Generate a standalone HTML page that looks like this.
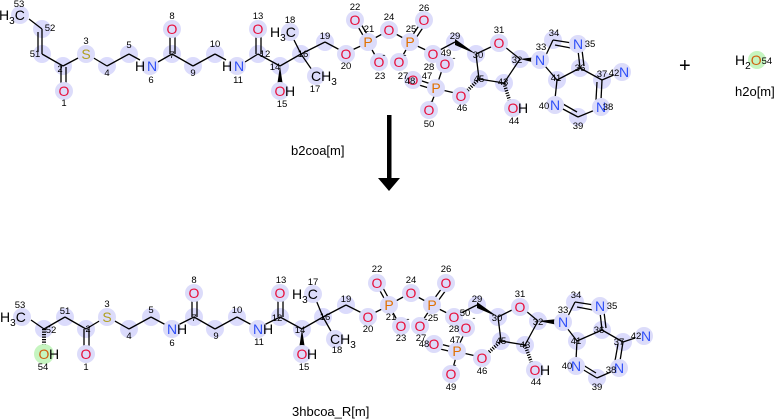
<!DOCTYPE html>
<html><head><meta charset="utf-8"><style>
body{margin:0;background:#fff;width:780px;height:420px;overflow:hidden}
svg{display:block}
.b line,.b polyline{stroke:#000;stroke-width:1.3;fill:none}
.cc{fill:rgba(190,190,250,0.55)}
.hc{fill:#dcdcfa}
.g{fill:#c6f5c0}
text{font-family:"Liberation Sans","DejaVu Sans",sans-serif}
.n{font-size:9.5px;fill:#000;text-anchor:middle}
.O{fill:#e8103c;font-size:14px;text-anchor:middle}
.N{fill:#3050f8;font-size:14px;text-anchor:middle}
.S{fill:#b0a020;font-size:14px;text-anchor:middle}
.P{fill:#e07000;font-size:14px;text-anchor:middle}
.K{fill:#000;font-size:14px}
.lab{font-size:13px;fill:#000}
</style></head><body>
<svg width="780" height="420" viewBox="0 0 780 420">
<!-- carbon circles (top) -->
<g class="cc">
<circle cx="42" cy="29" r="9"/><circle cx="42" cy="54" r="9"/><circle cx="63" cy="66" r="9"/><circle cx="107" cy="66" r="9"/><circle cx="129" cy="54" r="9"/><circle cx="172" cy="54" r="9"/><circle cx="193" cy="66" r="9"/><circle cx="215" cy="54" r="9"/><circle cx="258" cy="54" r="9"/><circle cx="280" cy="66" r="9"/><circle cx="301" cy="54" r="9"/><circle cx="325" cy="42" r="9"/><circle cx="455" cy="42" r="9"/><circle cx="476" cy="54" r="9"/><circle cx="520" cy="59" r="9"/><circle cx="504" cy="83" r="9"/><circle cx="479" cy="79" r="9"/><circle cx="553" cy="40" r="9"/><circle cx="580" cy="68" r="9"/><circle cx="602" cy="80" r="9"/><circle cx="578" cy="117" r="9"/><circle cx="557" cy="80" r="9"/>
<!-- bottom -->
<circle cx="44" cy="329" r="9"/><circle cx="65" cy="317" r="9"/><circle cx="86" cy="329" r="9"/><circle cx="129" cy="329" r="9"/><circle cx="151" cy="317" r="9"/><circle cx="194" cy="317" r="9"/><circle cx="215" cy="329" r="9"/><circle cx="237" cy="317" r="9"/><circle cx="280" cy="317" r="9"/><circle cx="302" cy="329" r="9"/><circle cx="323" cy="317" r="9"/><circle cx="346" cy="305" r="9"/><circle cx="477" cy="305" r="9"/><circle cx="498" cy="317" r="9"/><circle cx="538" cy="321" r="9"/><circle cx="525" cy="345" r="9"/><circle cx="501" cy="341" r="9"/><circle cx="575" cy="302" r="9"/><circle cx="602" cy="330" r="9"/><circle cx="623" cy="342" r="9"/><circle cx="597" cy="378" r="9"/><circle cx="577" cy="341" r="9"/>
</g>
<g class="b">
<!-- top bonds -->
<line x1="29" y1="19" x2="42" y2="29"/><line x1="42" y1="29" x2="42" y2="54"/><line x1="38" y1="32" x2="38" y2="52"/>
<line x1="42" y1="54" x2="63" y2="66"/><line x1="61" y1="66" x2="61" y2="84"/><line x1="66" y1="67" x2="66" y2="84"/>
<line x1="63" y1="66" x2="80" y2="57"/><line x1="92" y1="57" x2="107" y2="66"/><line x1="107" y1="66" x2="129" y2="54"/><line x1="129" y1="54" x2="140" y2="60"/>
<line x1="158" y1="62" x2="172" y2="54"/><line x1="170" y1="54" x2="170" y2="36"/><line x1="175" y1="54" x2="175" y2="36"/>
<line x1="172" y1="54" x2="193" y2="66"/><line x1="193" y1="66" x2="215" y2="54"/><line x1="215" y1="54" x2="226" y2="60"/>
<line x1="245" y1="62" x2="258" y2="54"/><line x1="256" y1="54" x2="256" y2="36"/><line x1="261" y1="54" x2="261" y2="36"/>
<line x1="258" y1="54" x2="280" y2="66"/><line x1="280" y1="66" x2="301" y2="54"/><line x1="301" y1="54" x2="293" y2="38"/><line x1="301" y1="54" x2="312" y2="70"/><line x1="301" y1="54" x2="325" y2="42"/><line x1="325" y1="42" x2="340" y2="50"/>
<line x1="352" y1="50" x2="363" y2="45"/><line x1="364" y1="37" x2="357" y2="25"/><line x1="368" y1="36" x2="361" y2="24"/><line x1="371" y1="48" x2="376" y2="57"/><line x1="373" y1="39" x2="384" y2="33"/>
<line x1="394" y1="33" x2="405" y2="39"/><line x1="412" y1="36" x2="420" y2="24"/><line x1="416" y1="38" x2="424" y2="26"/><line x1="407" y1="48" x2="402" y2="57"/><line x1="415" y1="45" x2="428" y2="51"/>
<line x1="438" y1="51" x2="455" y2="42"/><line x1="476" y1="54" x2="493" y2="46"/><line x1="505" y1="47" x2="520" y2="59"/><line x1="520" y1="59" x2="504" y2="83"/><line x1="504" y1="83" x2="479" y2="79"/><line x1="479" y1="79" x2="476" y2="54"/>
<line x1="455" y1="93" x2="442" y2="90"/><line x1="431" y1="84" x2="419" y2="80"/><line x1="432" y1="89" x2="419" y2="85"/><line x1="435" y1="94" x2="431" y2="104"/><line x1="438" y1="82" x2="442" y2="70"/>
<line x1="546" y1="55" x2="553" y2="40"/><line x1="553" y1="40" x2="572" y2="43"/><line x1="555" y1="45" x2="571" y2="48"/><line x1="578" y1="50" x2="580" y2="68"/><line x1="582" y1="50" x2="584" y2="66"/><line x1="580" y1="68" x2="557" y2="80"/><line x1="557" y1="80" x2="545" y2="66"/>
<line x1="580" y1="68" x2="602" y2="80"/><line x1="602" y1="80" x2="616" y2="74"/><line x1="602" y1="80" x2="601" y2="100"/><line x1="597" y1="82" x2="596" y2="100"/>
<line x1="595" y1="110" x2="578" y2="117"/><line x1="578" y1="117" x2="561" y2="108"/><line x1="577" y1="112" x2="563" y2="104"/><line x1="555" y1="99" x2="557" y2="80"/>
<!-- bottom bonds -->
<line x1="31" y1="320" x2="44" y2="329"/><line x1="44" y1="329" x2="65" y2="317"/><line x1="65" y1="317" x2="86" y2="329"/><line x1="84" y1="329" x2="84" y2="347"/><line x1="89" y1="329" x2="89" y2="347"/>
<line x1="86" y1="329" x2="101" y2="320"/><line x1="113" y1="320" x2="129" y2="329"/><line x1="129" y1="329" x2="151" y2="317"/><line x1="151" y1="317" x2="166" y2="325"/>
<line x1="178" y1="325" x2="194" y2="317"/><line x1="192" y1="317" x2="192" y2="300"/><line x1="197" y1="317" x2="197" y2="300"/><line x1="194" y1="317" x2="215" y2="329"/><line x1="215" y1="329" x2="237" y2="317"/><line x1="237" y1="317" x2="252" y2="325"/>
<line x1="264" y1="325" x2="280" y2="317"/><line x1="278" y1="317" x2="278" y2="300"/><line x1="283" y1="317" x2="283" y2="300"/><line x1="280" y1="317" x2="302" y2="329"/><line x1="302" y1="329" x2="323" y2="317"/>
<line x1="323" y1="317" x2="316" y2="300"/><line x1="323" y1="317" x2="332" y2="333"/><line x1="323" y1="317" x2="346" y2="305"/><line x1="346" y1="305" x2="362" y2="313"/>
<line x1="374" y1="313" x2="384" y2="308"/><line x1="385" y1="300" x2="379" y2="289"/><line x1="389" y1="299" x2="383" y2="288"/><line x1="392" y1="311" x2="397" y2="320"/><line x1="394" y1="302" x2="405" y2="296"/>
<line x1="416" y1="296" x2="427" y2="302"/><line x1="434" y1="299" x2="442" y2="288"/><line x1="438" y1="301" x2="446" y2="290"/><line x1="429" y1="311" x2="423" y2="320"/><line x1="437" y1="308" x2="449" y2="314"/>
<line x1="459" y1="314" x2="477" y2="305"/><line x1="498" y1="317" x2="514" y2="309"/><line x1="526" y1="311" x2="538" y2="321"/><line x1="538" y1="321" x2="525" y2="345"/><line x1="525" y1="345" x2="501" y2="341"/><line x1="501" y1="341" x2="498" y2="317"/>
<line x1="476" y1="356" x2="463" y2="353"/><line x1="452" y1="347" x2="440" y2="344"/><line x1="453" y1="352" x2="440" y2="349"/><line x1="456" y1="357" x2="453" y2="368"/><line x1="459" y1="345" x2="464" y2="334"/>
<line x1="568" y1="316" x2="575" y2="302"/><line x1="575" y1="302" x2="594" y2="305"/><line x1="577" y1="307" x2="593" y2="310"/><line x1="600" y1="312" x2="602" y2="330"/><line x1="604" y1="312" x2="606" y2="328"/><line x1="602" y1="330" x2="577" y2="341"/><line x1="577" y1="341" x2="567" y2="328"/>
<line x1="602" y1="330" x2="623" y2="342"/><line x1="623" y1="342" x2="638" y2="337"/><line x1="623" y1="342" x2="620" y2="361"/><line x1="618" y1="344" x2="615" y2="361"/>
<line x1="613" y1="371" x2="597" y2="378"/><line x1="597" y1="378" x2="582" y2="369"/><line x1="596" y1="373" x2="583" y2="365"/><line x1="576" y1="360" x2="577" y2="341"/>
</g>
<!-- wedges / hashes -->
<polygon points="280,66 277,86 283,86" fill="#000"/>
<polygon points="476,54 455,39 455,45" fill="#000"/>
<polygon points="520,59 536,57 536,63" fill="#000"/>
<line x1="479" y1="79" x2="466" y2="92" stroke="#000" stroke-width="3.5" stroke-dasharray="1.2,1.3"/>
<line x1="504" y1="83" x2="510" y2="102" stroke="#000" stroke-width="3.5" stroke-dasharray="1.2,1.3"/>
<polygon points="302,329 299,349 305,349" fill="#000"/>
<polygon points="498,317 477,302 477,308" fill="#000"/>
<polygon points="538,321 558,319 558,325" fill="#000"/>
<line x1="44" y1="329" x2="44" y2="348" stroke="#000" stroke-width="4" stroke-dasharray="1.2,1.3"/>
<line x1="501" y1="341" x2="487" y2="354" stroke="#000" stroke-width="3.5" stroke-dasharray="1.2,1.3"/>
<line x1="525" y1="345" x2="532" y2="364" stroke="#000" stroke-width="3.5" stroke-dasharray="1.2,1.3"/>
<!-- hetero circles -->
<g class="hc">
<circle cx="20" cy="15" r="9"/><circle cx="64" cy="91" r="9"/><circle cx="86" cy="54" r="9"/><circle cx="150" cy="66" r="9"/><circle cx="172" cy="29" r="9"/><circle cx="237" cy="66" r="9"/><circle cx="258" cy="29" r="9"/><circle cx="280" cy="91" r="9"/><circle cx="290" cy="32" r="9"/><circle cx="316" cy="76" r="9"/>
<circle cx="346" cy="54" r="9"/><circle cx="368" cy="42" r="9"/><circle cx="355" cy="20" r="9"/><circle cx="379" cy="62" r="9"/><circle cx="389" cy="30" r="9"/><circle cx="410" cy="42" r="9"/><circle cx="424" cy="20" r="9"/><circle cx="399" cy="62" r="9"/><circle cx="433" cy="54" r="9"/><circle cx="445" cy="64" r="9"/><circle cx="499" cy="43" r="9"/><circle cx="461" cy="96" r="9"/><circle cx="436" cy="88" r="9"/><circle cx="413" cy="80" r="9"/><circle cx="429" cy="110" r="9"/><circle cx="513" cy="108" r="9"/><circle cx="540" cy="60" r="9"/><circle cx="578" cy="44" r="9"/><circle cx="601" cy="107" r="9"/><circle cx="555" cy="105" r="9"/><circle cx="622" cy="72" r="9"/>
<circle cx="22" cy="317" r="9"/><circle cx="86" cy="354" r="9"/><circle cx="107" cy="317" r="9"/><circle cx="172" cy="329" r="9"/><circle cx="194" cy="293" r="9"/><circle cx="258" cy="329" r="9"/><circle cx="280" cy="293" r="9"/><circle cx="302" cy="354" r="9"/><circle cx="313" cy="294" r="9"/><circle cx="335" cy="339" r="9"/>
<circle cx="368" cy="317" r="9"/><circle cx="389" cy="305" r="9"/><circle cx="377" cy="283" r="9"/><circle cx="401" cy="326" r="9"/><circle cx="411" cy="293" r="9"/><circle cx="432" cy="305" r="9"/><circle cx="446" cy="283" r="9"/><circle cx="420" cy="326" r="9"/><circle cx="454" cy="317" r="9"/><circle cx="466" cy="328" r="9"/><circle cx="520" cy="307" r="9"/><circle cx="482" cy="358" r="9"/><circle cx="457" cy="351" r="9"/><circle cx="434" cy="344" r="9"/><circle cx="451" cy="374" r="9"/><circle cx="535" cy="370" r="9"/><circle cx="563" cy="322" r="9"/><circle cx="600" cy="306" r="9"/><circle cx="619" cy="368" r="9"/><circle cx="576" cy="366" r="9"/><circle cx="644" cy="336" r="9"/>
</g>
<circle class="g" cx="44" cy="354" r="10"/>
<circle class="g" cx="757" cy="60" r="9"/>
<!-- top atom labels -->
<text x="-1" y="20" class="K">H<tspan font-size="10" dy="4">3</tspan><tspan dy="-4">C</tspan></text>
<text class="O" x="64" y="96">O</text><text class="S" x="86" y="59">S</text>
<text x="135" y="71" class="K">H</text><text class="N" x="152" y="71">N</text>
<text class="O" x="172" y="34">O</text>
<text x="222" y="71" class="K">H</text><text class="N" x="239" y="71">N</text>
<text class="O" x="258" y="34">O</text>
<text class="O" x="280" y="96">O</text><text x="285" y="96" class="K">H</text>
<text x="270" y="37" class="K">H<tspan font-size="10" dy="4">3</tspan><tspan dy="-4">C</tspan></text>
<text x="311" y="81" class="K">CH<tspan font-size="10" dy="4">3</tspan></text>
<text class="O" x="346" y="59">O</text><text class="P" x="368" y="47">P</text><text class="O" x="355" y="25">O</text><text class="O" x="379" y="67">O</text><text class="O" x="389" y="35">O</text><text class="P" x="410" y="47">P</text><text class="O" x="424" y="25">O</text><text class="O" x="399" y="67">O</text><text class="O" x="433" y="59">O</text><text class="O" x="445" y="69">O</text><text class="O" x="499" y="48">O</text><text class="O" x="461" y="101">O</text><text class="P" x="436" y="93">P</text><text class="O" x="413" y="85">O</text><text class="O" x="429" y="115">O</text>
<text class="O" x="513" y="113">O</text><text x="518" y="113" class="K">H</text>
<text class="N" x="540" y="65">N</text><text class="N" x="578" y="49">N</text><text class="N" x="601" y="112">N</text><text class="N" x="555" y="110">N</text><text class="N" x="624" y="77">N</text>
<text class="n" x="384" y="58">-</text><text class="n" x="405" y="58">-</text><text class="n" x="454" y="61">-</text><text class="n" x="432" y="104">-</text>
<!-- top numbers -->
<g class="n">
<text x="19" y="7">53</text><text x="50" y="31">52</text><text x="35" y="57">51</text><text x="60" y="72">2</text><text x="64" y="106">1</text><text x="86" y="44">3</text><text x="107" y="76">4</text><text x="129" y="48">5</text><text x="151" y="83">6</text><text x="172" y="58">7</text><text x="172" y="19">8</text><text x="193" y="76">9</text><text x="215" y="47">10</text><text x="238" y="83">11</text><text x="265" y="57">12</text><text x="258" y="19">13</text><text x="275" y="70">14</text><text x="282" y="107">15</text><text x="303" y="57">16</text><text x="315" y="92">17</text><text x="290" y="23">18</text><text x="325" y="39">19</text>
<text x="346" y="69">20</text><text x="369" y="32">21</text><text x="355" y="10">22</text><text x="380" y="79">23</text><text x="389" y="20">24</text><text x="411" y="32">25</text><text x="424" y="11">26</text><text x="403" y="79">27</text><text x="429" y="70">28</text><text x="455" y="39">29</text><text x="478" y="58">30</text><text x="499" y="33">31</text><text x="517" y="63">32</text><text x="541" y="50">33</text><text x="554" y="36">34</text><text x="590" y="47">35</text><text x="580" y="71">36</text><text x="602" y="77">37</text><text x="608" y="110">38</text><text x="578" y="129">39</text><text x="544" y="109">40</text><text x="556" y="81">41</text><text x="614" y="76">42</text><text x="503" y="85">43</text><text x="514" y="124">44</text><text x="479" y="82">45</text><text x="462" y="111">46</text><text x="427" y="79">47</text><text x="410" y="84">48</text><text x="446" y="56">49</text><text x="429" y="127">50</text>
</g>
<!-- bottom atom labels -->
<text x="0" y="322" class="K">H<tspan font-size="10" dy="4">3</tspan><tspan dy="-4">C</tspan></text>
<text x="44" y="359" class="O" style="fill:#d06010">O</text><text x="49" y="359" class="K">H</text>
<text class="O" x="86" y="359">O</text><text class="S" x="107" y="322">S</text>
<text class="N" x="172" y="334">N</text><text x="177" y="334" class="K">H</text>
<text class="O" x="194" y="298">O</text>
<text class="N" x="258" y="334">N</text><text x="263" y="334" class="K">H</text>
<text class="O" x="280" y="298">O</text>
<text class="O" x="302" y="359">O</text><text x="307" y="359" class="K">H</text>
<text x="292" y="299" class="K">H<tspan font-size="10" dy="4">3</tspan><tspan dy="-4">C</tspan></text>
<text x="330" y="344" class="K">CH<tspan font-size="10" dy="4">3</tspan></text>
<text class="O" x="368" y="322">O</text><text class="P" x="389" y="310">P</text><text class="O" x="377" y="288">O</text><text class="O" x="401" y="331">O</text><text class="O" x="411" y="298">O</text><text class="P" x="432" y="310">P</text><text class="O" x="446" y="288">O</text><text class="O" x="420" y="331">O</text><text class="O" x="454" y="322">O</text><text class="O" x="466" y="333">O</text><text class="O" x="520" y="312">O</text><text class="O" x="482" y="363">O</text><text class="P" x="457" y="356">P</text><text class="O" x="434" y="349">O</text><text class="O" x="451" y="379">O</text>
<text class="O" x="535" y="375">O</text><text x="540" y="375" class="K">H</text>
<text class="N" x="563" y="327">N</text><text class="N" x="600" y="311">N</text><text class="N" x="619" y="373">N</text><text class="N" x="576" y="371">N</text><text class="N" x="646" y="341">N</text>
<text class="n" x="408" y="322">-</text><text class="n" x="426" y="322">-</text><text class="n" x="474" y="321">-</text><text class="n" x="455" y="368">-</text>
<g class="n">
<text x="20" y="308">53</text><text x="51" y="333">52</text><text x="65" y="314">51</text><text x="88" y="332">2</text><text x="86" y="370">1</text><text x="107" y="307">3</text><text x="129" y="339">4</text><text x="151" y="313">5</text><text x="172" y="346">6</text><text x="194" y="321">7</text><text x="194" y="283">8</text><text x="216" y="339">9</text><text x="237" y="313">10</text><text x="259" y="345">11</text><text x="277" y="321">12</text><text x="281" y="283">13</text><text x="300" y="333">14</text><text x="304" y="370">15</text><text x="325" y="320">16</text><text x="313" y="285">17</text><text x="337" y="353">18</text><text x="346" y="302">19</text>
<text x="368" y="332">20</text><text x="391" y="320">21</text><text x="377" y="272">22</text><text x="401" y="341">23</text><text x="411" y="283">24</text><text x="433" y="321">25</text><text x="446" y="272">26</text><text x="421" y="341">27</text><text x="454" y="332">28</text><text x="477" y="302">29</text><text x="497" y="321">30</text><text x="520" y="297">31</text><text x="538" y="325">32</text><text x="563" y="313">33</text><text x="576" y="298">34</text><text x="612" y="309">35</text><text x="599" y="333">36</text><text x="619" y="345">37</text><text x="611" y="373">38</text><text x="597" y="390">39</text><text x="567" y="369">40</text><text x="576" y="344">41</text><text x="636" y="339">42</text><text x="525" y="348">43</text><text x="536" y="385">44</text><text x="501" y="344">45</text><text x="482" y="374">46</text><text x="455" y="343">47</text><text x="424" y="347">48</text><text x="451" y="390">49</text><text x="465" y="316">50</text><text x="43" y="370">54</text>
</g>
<!-- reaction -->
<text x="679" y="72" style="font-size:20px;fill:#000">+</text>
<text x="735" y="65" class="K">H<tspan font-size="10" dy="4">2</tspan><tspan dy="-4" fill="#d06010">O</tspan><tspan font-size="9.5" dy="-1">54</tspan></text>
<text x="735" y="96" class="lab">h2o[m]</text>
<text x="291" y="155" class="lab">b2coa[m]</text>
<rect x="387" y="115" width="4.5" height="64" fill="#000"/>
<polygon points="378,178 400,178 389,191" fill="#000"/>
<text x="292" y="416" class="lab">3hbcoa_R[m]</text>
</svg>
</body></html>
